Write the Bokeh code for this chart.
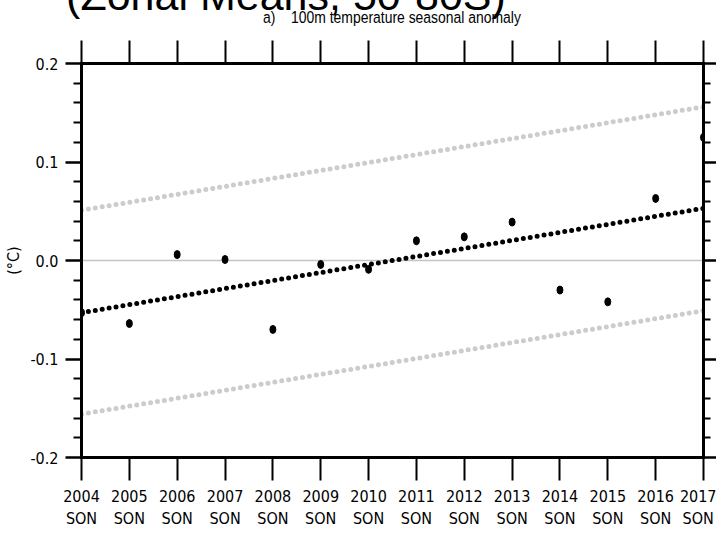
from bokeh.plotting import figure
from bokeh.layouts import column
from bokeh.models import (Range1d, FixedTicker, LinearAxis, Span, Div,
                          CustomJSTickFormatter)
from bokeh.embed import file_html
from bokeh.resources import INLINE

# ---------------- data ----------------
years = [2004, 2005, 2006, 2007, 2008, 2009, 2010, 2011, 2012, 2013,
         2014, 2015, 2016, 2017]
season = "SON"
anomaly = [-0.053, -0.064, 0.006, 0.001, -0.070, -0.004, -0.009, 0.020,
           0.024, 0.039, -0.030, -0.042, 0.063, 0.125]
trend_x = [2004, 2017]
trend_y = [-0.053, 0.053]
upper_y = [0.051, 0.156]
lower_y = [-0.156, -0.051]
y_ticks = [-0.2, -0.1, 0.0, 0.1, 0.2]
y_tick_labels = ["-0.2", "-0.1", "0.0", "0.1", "0.2"]
y_minor = [-0.18, -0.16, -0.14, -0.12, -0.08, -0.06, -0.04, -0.02,
           0.02, 0.04, 0.06, 0.08, 0.12, 0.14, 0.16, 0.18]
title_text = "a)    100m temperature seasonal anomaly"
header_text = "(Zonal Means, 50-80S)"
y_label = "(°C)"

NARROW = "'Liberation Sans Narrow', 'Arial Narrow', 'DejaVu Sans Condensed', sans-serif"
HEAD_H = 30

# ---------------- header strip: big heading cut off at the top + panel title ----------------
head_svg = (
    f'<svg xmlns="http://www.w3.org/2000/svg" width="716" height="{HEAD_H}" '
    f'style="display:block">'
    f'<text x="286" y="9.5" text-anchor="middle" font-family="Lato" '
    f'font-size="43px" fill="black">{header_text}</text>'
    f'<text transform="translate(392,22.5) scale(0.82,1)" text-anchor="middle" '
    f'font-family="Liberation Sans, Arial, sans-serif" font-size="17px" '
    f'style="white-space:pre" fill="black">{title_text}</text>'
    f'</svg>'
)
head = Div(text=head_svg, width=716, height=HEAD_H, margin=0,
           styles={"overflow": "hidden", "padding": "0", "line-height": "0"})

# ---------------- main panel ----------------
p = figure(width=716, height=539 - HEAD_H, output_backend="svg",
           toolbar_location=None, title=None,
           x_range=Range1d(2004, 2017), y_range=Range1d(-0.2, 0.2),
           min_border_left=81, min_border_right=13, min_border_top=63 - HEAD_H,
           min_border_bottom=82, x_axis_location=None, y_axis_location=None)
p.grid.visible = False
p.outline_line_color = None
p.background_fill_color = "white"
p.border_fill_color = "white"

blank = CustomJSTickFormatter(code="return ''")


def style_axis(ax):
    ax.axis_line_width = 3
    ax.axis_line_color = "black"
    ax.axis_line_cap = "square"
    ax.major_tick_line_width = 2
    ax.minor_tick_line_width = 2
    ax.major_tick_in = 0
    ax.minor_tick_in = 0


# bottom axis
xb = LinearAxis(ticker=FixedTicker(ticks=years),
                major_label_overrides={y: f"{y}\n{season}" for y in years})
style_axis(xb)
xb.major_tick_out = 23
xb.minor_tick_out = 0
xb.major_label_standoff = 6
xb.major_label_text_font = NARROW
xb.major_label_text_font_size = "16px"
xb.major_label_text_color = "black"
p.add_layout(xb, "below")

# top axis
xt = LinearAxis(ticker=FixedTicker(ticks=years), formatter=blank)
style_axis(xt)
xt.major_tick_out = 23
xt.minor_tick_out = 0
xt.major_label_standoff = 0
xt.major_label_text_font_size = "0px"
p.add_layout(xt, "above")

# left axis
yl = LinearAxis(ticker=FixedTicker(ticks=y_ticks, minor_ticks=y_minor),
                major_label_overrides=dict(zip(y_ticks, y_tick_labels)),
                axis_label=y_label)
style_axis(yl)
yl.major_tick_line_width = 2.5
yl.major_tick_out = 16
yl.minor_tick_out = 8
yl.major_label_standoff = 7
yl.major_label_text_font = NARROW
yl.major_label_text_font_size = "16px"
yl.major_label_text_color = "black"
yl.axis_label_text_font = NARROW
yl.axis_label_text_font_size = "16px"
yl.axis_label_text_font_style = "normal"
yl.axis_label_text_color = "black"
yl.axis_label_standoff = 4
p.add_layout(yl, "left")

# right axis
yr = LinearAxis(ticker=FixedTicker(ticks=y_ticks, minor_ticks=y_minor),
                formatter=blank)
style_axis(yr)
yr.major_tick_line_width = 2.5
yr.major_tick_out = 13
yr.minor_tick_out = 7
yr.major_label_standoff = 0
yr.major_label_text_font_size = "0px"
p.add_layout(yr, "right")

# zero line
p.add_layout(Span(location=0, dimension="width", line_color="#c4c4c4",
                  line_width=1.5, level="underlay"))

# confidence bounds and trend (dotted)
p.line(trend_x, upper_y, line_color="#cccccc", line_width=5,
       line_dash="0 7", line_cap="round")
p.line(trend_x, lower_y, line_color="#cccccc", line_width=5,
       line_dash="0 7", line_cap="round")
p.line(trend_x, trend_y, line_color="black", line_width=5,
       line_dash="0 7", line_cap="round")

# anomaly points
p.ellipse(x=years, y=anomaly, width=6, height=8, width_units="screen",
          height_units="screen", fill_color="black", line_color="black")

layout = column(head, p, spacing=0)
open("out.html", "w").write(file_html(layout, INLINE))
